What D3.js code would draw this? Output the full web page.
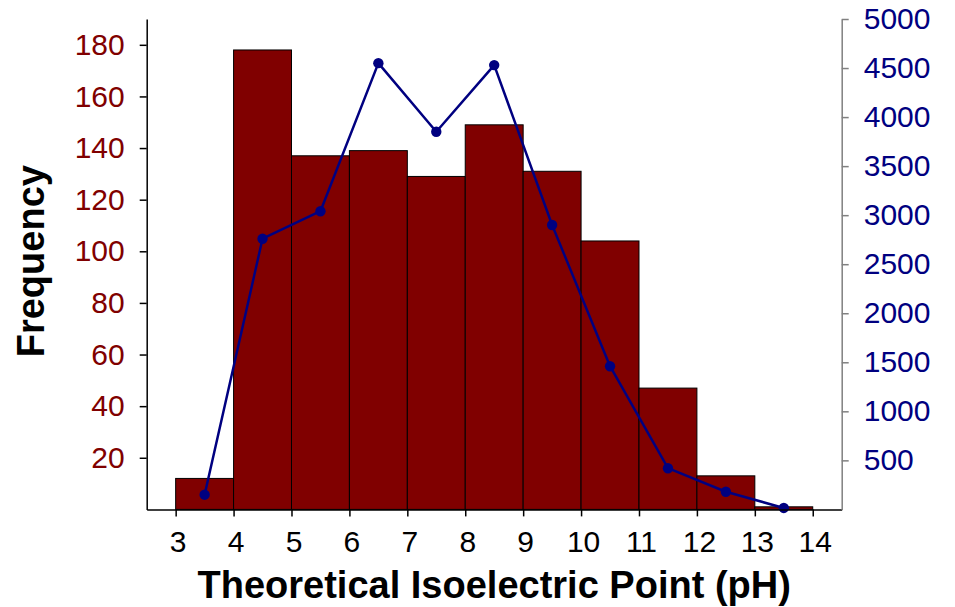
<!DOCTYPE html>
<html>
<head>
<meta charset="utf-8">
<script src="https://cdn.jsdelivr.net/npm/d3@7"></script>
<style>
  body { margin: 0; background: #fff; }
  svg { display: block; }
  text { font-family: "Liberation Sans", Arial, sans-serif; }
</style>
</head>
<body>
<svg id="chart" width="955" height="607"></svg>
<script>
// Histogram of theoretical pI (bins of 1 pH unit) with a second series on the right axis
const binStarts = [3, 4, 5, 6, 7, 8, 9, 10, 11, 12, 13];
const binWidth = 1;
const frequency = [12, 178, 137, 139, 129, 149, 131, 104, 47, 13, 1];
const secondSeries = [150, 2760, 3040, 4550, 3850, 4530, 2900, 1460, 420, 180, 15];
const xTicks = [3, 4, 5, 6, 7, 8, 9, 10, 11, 12, 13, 14];
const leftTicks = [20, 40, 60, 80, 100, 120, 140, 160, 180];
const rightTicks = [500, 1000, 1500, 2000, 2500, 3000, 3500, 4000, 4500, 5000];
const xTitle = "Theoretical Isoelectric Point (pH)";
const yTitle = "Frequency";

const svg = d3.select("#chart");
const plot = { left: 146.7, right: 841.7, top: 19, bottom: 509.4 };

const x = d3.scaleLinear().domain([2.5, 14.5]).range([plot.left, plot.right]);
const yLeft = d3.scaleLinear().domain([0, 190]).range([plot.bottom, plot.top]);
const yRight = d3.scaleLinear().domain([0, 5000]).range([plot.bottom, plot.top]);

const barColor = "#800000";
const lineColor = "#000080";
const tickFont = 30;

// bars
svg.append("g")
  .selectAll("rect")
  .data(binStarts)
  .join("rect")
  .attr("x", (d) => x(d))
  .attr("width", (d) => x(d + binWidth) - x(d))
  .attr("y", (d, i) => yLeft(frequency[i]))
  .attr("height", (d, i) => yLeft(0) - yLeft(frequency[i]))
  .attr("fill", barColor)
  .attr("stroke", "#000")
  .attr("stroke-width", 1);

// line series on the right-hand scale
const pts = binStarts.map((d, i) => [x(d + binWidth / 2), yRight(secondSeries[i])]);
svg.append("path")
  .attr("d", d3.line()(pts))
  .attr("fill", "none")
  .attr("stroke", lineColor)
  .attr("stroke-width", 2.5)
  .attr("stroke-linejoin", "round");
svg.append("g")
  .selectAll("circle")
  .data(pts)
  .join("circle")
  .attr("cx", (d) => d[0])
  .attr("cy", (d) => d[1])
  .attr("r", 5.2)
  .attr("fill", lineColor);

// axes
const xAxis = svg.append("g")
  .attr("transform", `translate(0,${plot.bottom})`)
  .call(d3.axisBottom(x).tickValues(xTicks).tickFormat(d3.format("d"))
    .tickSize(7).tickSizeOuter(0).tickPadding(14));
xAxis.selectAll("text").attr("font-size", tickFont).attr("fill", "#000").attr("dx", 2);
xAxis.selectAll("line,path").attr("stroke", "#000").attr("stroke-width", 1.5);

const leftAxis = svg.append("g")
  .attr("transform", `translate(${plot.left},0)`)
  .call(d3.axisLeft(yLeft).tickValues(leftTicks).tickFormat(d3.format("d"))
    .tickSize(7).tickSizeOuter(0).tickPadding(15));
leftAxis.selectAll("text").attr("font-size", tickFont).attr("fill", barColor);
leftAxis.selectAll("line,path").attr("stroke", "#000").attr("stroke-width", 1.5);

const rightAxis = svg.append("g")
  .attr("transform", `translate(${plot.right},0)`)
  .call(d3.axisRight(yRight).tickValues(rightTicks).tickFormat(d3.format("d"))
    .tickSize(7).tickSizeOuter(0).tickPadding(15));
rightAxis.selectAll("text").attr("font-size", tickFont).attr("fill", lineColor);
rightAxis.selectAll("line,path").attr("stroke", "#808080").attr("stroke-width", 1.5);

// titles
svg.append("text")
  .attr("x", (plot.left + plot.right) / 2)
  .attr("y", 598)
  .attr("text-anchor", "middle")
  .attr("font-size", 38)
  .attr("font-weight", "bold")
  .attr("fill", "#000")
  .text(xTitle);

svg.append("text")
  .attr("transform", `translate(43.5,${(plot.top + plot.bottom) / 2 - 3}) rotate(-90)`)
  .attr("text-anchor", "middle")
  .attr("font-size", 38)
  .attr("font-weight", "bold")
  .attr("fill", "#000")
  .text(yTitle);
</script>
</body>
</html>
